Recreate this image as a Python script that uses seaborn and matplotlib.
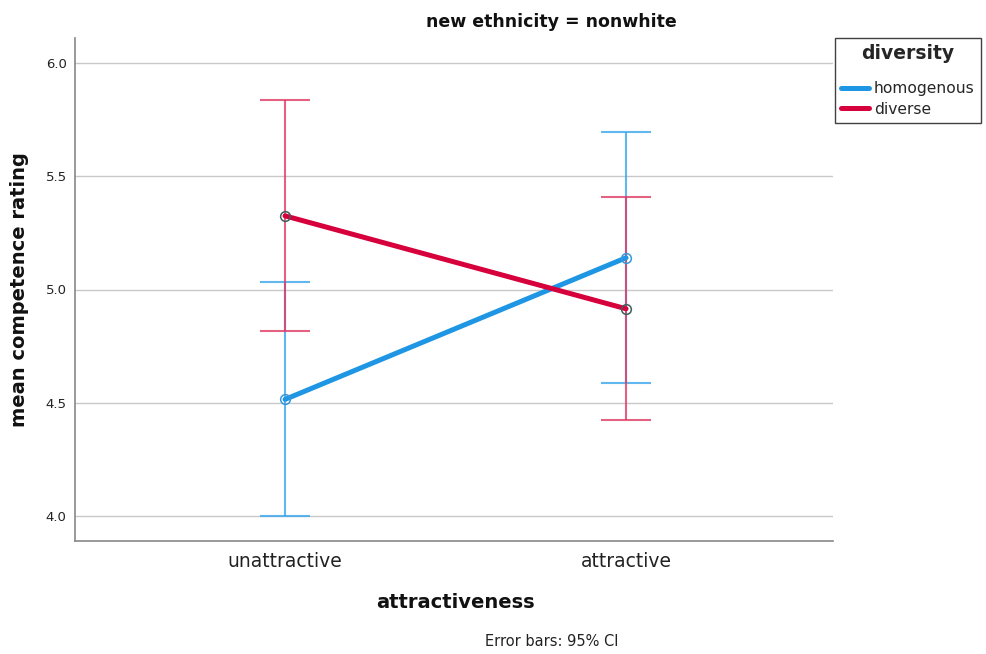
import matplotlib
matplotlib.use("Agg")
import matplotlib.pyplot as plt
import seaborn as sns
import pandas as pd

# Cell means and 95% confidence limits for the nonwhite subgroup
attractiveness = ["unattractive", "attractive"]
groups = ["homogenous", "diverse"]
homogenous_mean = [4.515, 5.140]
homogenous_low = [4.000, 4.588]
homogenous_high = [5.033, 5.693]
diverse_mean = [5.325, 4.915]
diverse_low = [4.815, 4.423]
diverse_high = [5.835, 5.410]

line_colors = {"homogenous": "#1f96e3", "diverse": "#d6003c"}
bar_colors = {"homogenous": "#3aa6ec", "diverse": "#de3a62"}
marker_edges = {"homogenous": "#3a98d8", "diverse": "#3e5e5c"}

means = {"homogenous": homogenous_mean, "diverse": diverse_mean}
lows = {"homogenous": homogenous_low, "diverse": diverse_low}
highs = {"homogenous": homogenous_high, "diverse": diverse_high}

positions = list(range(len(attractiveness)))
df = pd.DataFrame({
    "pos": positions * len(groups),
    "mean": homogenous_mean + diverse_mean,
    "diversity": [g for g in groups for _ in attractiveness],
})

sns.set_style("white")
plt.rcParams["font.family"] = ["DejaVu Sans"]

fig = plt.figure(figsize=(9.86, 6.54), dpi=100)
ax = fig.add_axes([75 / 986, 1 - 541 / 654, (833 - 75) / 986, (541 - 38) / 654])

# horizontal reference lines
for v in [4.0, 4.5, 5.0, 5.5, 6.0]:
    ax.axhline(v, color="#c8c8c8", linewidth=1.0, zorder=0)

# confidence interval bars
for g in groups:
    m = means[g]
    lo = [a - b for a, b in zip(m, lows[g])]
    hi = [b - a for a, b in zip(m, highs[g])]
    ax.errorbar(positions, m, yerr=[lo, hi], fmt="none", ecolor=bar_colors[g],
                elinewidth=1.5, capsize=18, capthick=1.5, alpha=0.8, zorder=2)

sns.lineplot(data=df, x="pos", y="mean", hue="diversity", hue_order=groups,
             palette=line_colors, linewidth=3.6, ax=ax, legend=False, zorder=3)

for g in groups:
    ax.plot(positions, means[g], linestyle="none", marker="o", markersize=7,
            markerfacecolor="none", markeredgecolor=marker_edges[g],
            markeredgewidth=1.1, zorder=4)

ax.set_xlim(-0.616, 1.607)
ax.set_ylim(3.89, 6.11)
ax.set_xticks(positions)
ax.set_xticklabels(attractiveness, fontsize=13.5, color="#222222")
ax.set_yticks([4.0, 4.5, 5.0, 5.5, 6.0])
ax.set_yticklabels(["4.0", "4.5", "5.0", "5.5", "6.0"], fontsize=9.5, color="#222222")
ax.tick_params(axis="both", length=0, pad=6)
ax.tick_params(axis="x", pad=8)
ax.set_xlabel("")
ax.set_ylabel("")

for side in ["top", "right"]:
    ax.spines[side].set_visible(False)
for side in ["left", "bottom"]:
    ax.spines[side].set_color("#888888")
    ax.spines[side].set_linewidth(1.2)

fig.text(20 / 986, 1 - 290 / 654, "mean competence rating", rotation=90,
         ha="center", va="center", fontsize=14, fontweight="bold", color="#111111")
fig.text(455 / 986, 1 - 602 / 654, "attractiveness", ha="center", va="center",
         fontsize=14, fontweight="bold", color="#111111")
fig.text(551 / 986, 1 - 22 / 654, "new ethnicity = nonwhite", ha="center", va="center",
         fontsize=12.5, fontweight="bold", color="#111111")
fig.text(552 / 986, 1 - 641 / 654, "Error bars: 95% CI", ha="center", va="center",
         fontsize=10.5, color="#222222")

handles = [plt.Line2D([], [], color=line_colors[g], linewidth=3.6) for g in groups]
leg = fig.legend(handles, groups, title="diversity", loc="upper left",
                 bbox_to_anchor=(835 / 986, 1 - 38 / 654), frameon=True,
                 fancybox=False, edgecolor="#111111", fontsize=11.2,
                 handlelength=1.8, handletextpad=0.3, labelspacing=0.35,
                 borderpad=0.4, borderaxespad=0)
leg.get_title().set_fontweight("bold")
leg.get_title().set_fontsize(13.5)
leg._legend_box.sep = 13
leg.get_frame().set_linewidth(1.0)

fig.savefig("out.png", dpi=100)
